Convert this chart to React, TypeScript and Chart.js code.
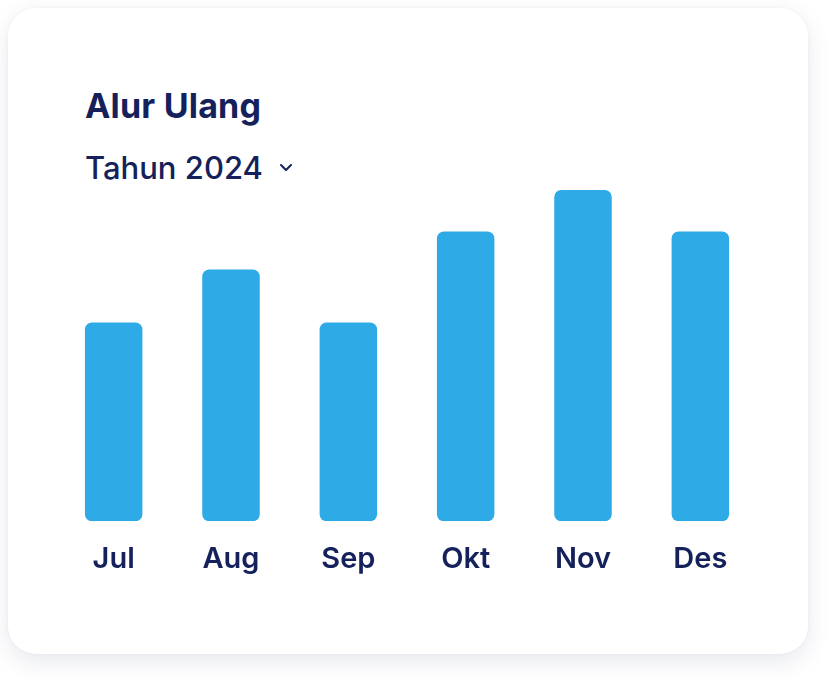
import React, { useEffect, useRef } from 'react';
import Chart from 'chart.js/auto';

const months = ['Jul', 'Aug', 'Sep', 'Okt', 'Nov', 'Des'];
const values = [60, 76, 60, 87.5, 100, 87.5];
const yMax = 100;
const title = 'Alur Ulang';
const period = 'Tahun 2024';

const navy = '#15215a';
const blue = '#2eaae6';

export default function App() {
  const canvasRef = useRef<HTMLCanvasElement | null>(null);
  useEffect(() => {
    const ctx = canvasRef.current!.getContext('2d');
    const chart = new Chart(ctx!, {
      type: 'bar',
      data: {
        labels: months,
        datasets: [{
          data: values,
          backgroundColor: blue,
          borderRadius: 7,
          borderSkipped: false,
          barPercentage: 0.49,
          categoryPercentage: 1,
        }],
      },
      options: {
        animation: false,
        responsive: false,
        maintainAspectRatio: false,
        layout: { padding: { top: 10, left: 0, right: 0, bottom: 0 } },
        plugins: { legend: { display: false }, tooltip: { enabled: false } },
        scales: {
          x: {
            grid: { display: false, drawTicks: false },
            border: { display: false },
            ticks: { color: navy, padding: 21, font: { family: 'Inter', size: 29, weight: 600 } },
          },
          y: { display: false, min: 0, max: yMax },
        },
      },
    });
    return () => { chart.destroy(); };
  }, []);

  return (
    <div style={{ position: 'fixed', left: 0, top: 0, width: 839, height: 684, background: '#fff', fontFamily: 'Inter, sans-serif' }}>
      <div style={{
        position: 'absolute', left: 8, top: 8, width: 800, height: 646, borderRadius: 28,
        background: '#fff', boxShadow: '0 8px 24px rgba(30,40,90,0.10), 0 0 4px rgba(30,40,90,0.04)',
      }} />
      <div style={{ position: 'absolute', left: 85, top: 84, fontSize: 34, fontWeight: 700, color: navy, letterSpacing: 0.2, lineHeight: '44px' }}>{title}</div>
      <div style={{ position: 'absolute', left: 85, top: 148, fontSize: 31, fontWeight: 500, color: navy, letterSpacing: 0, lineHeight: '40px', display: 'flex', alignItems: 'center' }}>
        <span>{period}</span>
        <svg width="14" height="10" viewBox="0 0 14 10" style={{ marginLeft: 16 }}>
          <path d="M2 2 L7 7 L12 2" fill="none" stroke={navy} strokeWidth="2" strokeLinecap="round" strokeLinejoin="round" />
        </svg>
      </div>
      <canvas ref={canvasRef} width={704} height={418} style={{ position: 'absolute', left: 55, top: 180, width: 704, height: 418 }} />
    </div>
  );
}
